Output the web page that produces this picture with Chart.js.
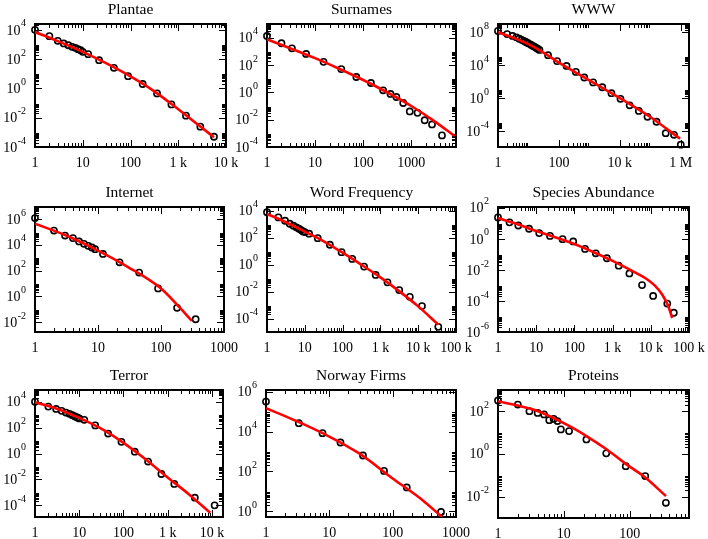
<!DOCTYPE html>
<html><head><meta charset="utf-8">
<script src="https://cdn.jsdelivr.net/npm/chart.js@4"></script>
<style>
html,body{margin:0;padding:0;background:#fff;}
#wrap{position:relative;width:708px;height:539px;overflow:hidden;background:#fff;}
#wrap canvas{position:absolute;left:0;top:0;}
</style></head><body><div id="wrap"></div>
<script>
// ---------- data ----------
const plantaeX = [1,2,3,4,5,6,7,8,9,10,13,22,45,89,180,360,720,1450,2900,5600];
const plantaeY = [10000,3715,1778,1175,891,692,589,479,407,316,219,85,25.7,6.9,2.0,0.457,0.0813,0.0138,0.00245,0.0005];
const plantaeFitX = [1,3,10,30,100,300,1000,3000,5600];
const plantaeFitY = [7080,1700,316,55,6.6,0.71,0.038,0.0023,0.00046];

const surnamesX = [1,2,3.3,6.5,15,35,72,145,260,370,490,680,930,1350,1900,2700,4350];
const surnamesY = [13200,3890,1660,646,170,50,13.2,4.8,1.41,0.76,0.457,0.166,0.0398,0.0316,0.0091,0.00447,0.000708];
const surnamesFitX = [1,3,10,30,100,300,1000,3000,8000];
const surnamesFitY = [7590,1700,316,57.5,7.94,1.1,0.1,0.0079,0.00063];

const wwwX = [1,2,3,4,5,6,7,8,9,10,12,14,16,18,20,23,44,87,178,360,680,1330,2650,5300,10500,21000,42000,81000,160000,320000,600000,1000000];
const wwwY = [1.445e8,6.03e7,3.55e7,2.4e7,1.66e7,1.2e7,8.91e6,6.92e6,5.5e6,4.47e6,3.02e6,2.19e6,1.66e6,1.26e6,1e6,7.08e5,1.62e5,3.09e4,7940,1510,316,79.4,20.4,3.89,0.813,0.132,0.0275,0.00525,0.00132,5.37e-5,3.39e-5,2.14e-6];
const wwwFitX = [1,3,10,30,100,1000,10000,100000,950000];
const wwwFitY = [1e8,2.34e7,3.55e6,3.55e5,2.0e4,141,1,0.00501,1.12e-5];

const internetX = [1,2,3,4,5,6,7,8,9,12,22,45,90,180,355];
const internetY = [1.2e6,1.29e5,5.25e4,3.31e4,1.82e4,1.2e4,8320,6170,4570,1950,437,69.2,4.07,0.126,0.0162];
const internetFitX = [1,3,10,30,100,200,310];
const internetFitY = [4.37e5,5.75e4,3550,186,3.98,0.126,0.012];

const wordX = [1,2,3,4,5,6,7,8,9,10,13,22,46,94,180,370,750,1540,3150,6000,12600,34000];
const wordY = [7590,3160,1780,1070,759,575,457,363,288,257,195,91.2,29.5,8.32,2.63,0.708,0.17,0.0479,0.0129,0.00407,0.000832,2.4e-5];
const wordFitX = [1,3,10,30,100,300,1000,3000,10000,34000];
const wordFitY = [5620,1510,282,57.5,7.59,1.05,0.112,0.0117,0.000794,3.55e-5];

const speciesX = [1,2,3.4,6.5,12,23,49,93,190,363,708,1445,2750,5900,11500,27000,40000];
const speciesY = [24,11.5,7.24,4.47,2.34,1.55,0.955,0.676,0.224,0.117,0.0562,0.0186,0.00589,0.00105,0.000209,6.76e-5,1.74e-5];
const speciesFitX = [1,3,10,30,100,300,1000,3000,7940,12600,20000,28200,36300];
const speciesFitY = [21.9,9.33,3.16,1.32,0.468,0.148,0.038,0.00955,0.00251,0.001,0.000251,5.01e-5,7.94e-6];

const terrorX = [1,2,3,4,5,6,7,8,9,10,13,23,45,90,180,360,720,1410,4100,11500];
const terrorY = [10000,4170,2750,1950,1450,1150,912,724,603,513,398,148,34.7,7.94,1.38,0.24,0.0263,0.00447,0.000389,0.0001];
const terrorFitX = [1,3,10,30,100,300,1000,3000,9120];
const terrorFitY = [8910,3020,562,89.1,6.61,0.407,0.0141,0.000724,2.63e-5];

const norwayX = [1,3.3,7.8,15,34,73,167,580];
const norwayY = [316000,26300,8320,2820,631,107,15.8,0.933];
const norwayFitX = [1,3,10,30,100,300,600];
const norwayFitY = [148000,33900,5620,776,44.7,3.55,0.525];

const proteinsX = [1,2,3,4,5,6,7,8,9,12,22,44,87,172,354];
const proteinsY = [309,200,97.7,81.3,69.2,37.2,42.7,33.9,13.8,11.5,4.68,1.05,0.263,0.0912,0.00513];
const proteinsFitX = [1,3.8,12,22,45,87,174,355];
const proteinsFitY = [288,105,20,6.76,1.58,0.339,0.0759,0.0105];

// tick labels
const plantaeXTicks = ["1","10","100","1 k","10 k"];
const surnamesXTicks = ["1","10","100","1000"];
const wwwXTicks = ["1","100","10 k","1 M"];
const internetXTicks = ["1","10","100","1000"];
const wordXTicks = ["1","10","100","1 k","10 k","100 k"];
const speciesXTicks = ["1","10","100","1 k","10 k","100 k"];
const terrorXTicks = ["1","10","100","1 k","10 k"];
const norwayXTicks = ["1","10","100","1000"];
const proteinsXTicks = ["1","10","100"];

const plantaeYExp = [4,2,0,-2,-4];
const surnamesYExp = [4,2,0,-2,-4];
const wwwYExp = [8,4,0,-4];
const internetYExp = [6,4,2,0,-2];
const wordYExp = [4,2,0,-2,-4];
const speciesYExp = [2,0,-2,-4,-6];
const terrorYExp = [4,2,0,-2,-4];
const norwayYExp = [6,4,2,0];
const proteinsYExp = [2,0,-2];

// ---------- layout ----------
const W = 708, H = 539;
const FONT = '"Liberation Serif","Times New Roman",Times,serif';

const panels = [
  {title:'Plantae', x:plantaeX, y:plantaeY, fx:plantaeFitX, fy:plantaeFitY, box:[35,24,226,147], xr:[0,4], yr:[-4,4.4], xStep:1, yStep:2, xl:plantaeXTicks, ye:plantaeYExp},
  {title:'Surnames', x:surnamesX, y:surnamesY, fx:surnamesFitX, fy:surnamesFitY, box:[267,24,456,147], xr:[0,3.93], yr:[-4,5], xStep:1, yStep:2, xl:surnamesXTicks, ye:surnamesYExp},
  {title:'WWW', x:wwwX, y:wwwY, fx:wwwFitX, fy:wwwFitY, box:[498,24,689,147], xr:[0,6.27], yr:[-5.95,9], xStep:2, yStep:4, xl:wwwXTicks, ye:wwwYExp},
  {title:'Internet', x:internetX, y:internetY, fx:internetFitX, fy:internetFitY, box:[35,207,224,332], xr:[0,3], yr:[-2.78,6.94], xStep:1, yStep:2, xl:internetXTicks, ye:internetYExp},
  {title:'Word Frequency', x:wordX, y:wordY, fx:wordFitX, fy:wordFitY, box:[267,207,456,332], xr:[0,5], yr:[-5,4.27], xStep:1, yStep:2, xl:wordXTicks, ye:wordYExp},
  {title:'Species Abundance', x:speciesX, y:speciesY, fx:speciesFitX, fy:speciesFitY, box:[498,207,689,332], xr:[0,5], yr:[-6,2.05], xStep:1, yStep:2, xl:speciesXTicks, ye:speciesYExp},
  {title:'Terror', x:terrorX, y:terrorY, fx:terrorFitX, fy:terrorFitY, box:[35,390,223,517], xr:[0,4.25], yr:[-4.9,4.9], xStep:1, yStep:2, xl:terrorXTicks, ye:terrorYExp},
  {title:'Norway Firms', x:norwayX, y:norwayY, fx:norwayFitX, fy:norwayFitY, box:[266,390,456,517], xr:[0,3], yr:[-0.28,6.08], xStep:1, yStep:2, xl:norwayXTicks, ye:norwayYExp},
  {title:'Proteins', x:proteinsX, y:proteinsY, fx:proteinsFitX, fy:proteinsFitY, box:[498,390,689,518], xr:[0,2.9], yr:[-3,2.98], xStep:1, yStep:2, xl:proteinsXTicks, ye:proteinsYExp}
];

function tickList(r, step){
  const out = [];
  const k0 = Math.floor(r[0]/step) - 1, k1 = Math.ceil(r[1]/step);
  for (let k = k0; k <= k1; k++) {
    const e = k*step, base = Math.pow(10, e);
    if (e >= r[0]-1e-9 && e <= r[1]+1e-9) out.push([base, true]);
    for (let m = 2; m <= 9; m++) {
      const lv = e + Math.log10(m);
      if (lv > r[0] && lv < r[1]) out.push([m*base, false]);
    }
  }
  return out;
}

function makePlugin(p){
  return {
    id: 'grace_' + p.title.replace(/\s/g,''),
    beforeDatasetsDraw(chart){
      const ctx = chart.ctx, a = chart.chartArea, xs = chart.scales.x, ys = chart.scales.y;
      const MAJ = 7, MIN = 4;
      ctx.save();
      ctx.strokeStyle = '#000'; ctx.lineWidth = 1;
      ctx.beginPath();
      tickList(p.xr, p.xStep).forEach(([v, major]) => {
        const x = Math.round(xs.getPixelForValue(v)) + 0.5, L = major ? MAJ : MIN;
        ctx.moveTo(x, a.bottom); ctx.lineTo(x, a.bottom - L);
        ctx.moveTo(x, a.top); ctx.lineTo(x, a.top + L);
      });
      tickList(p.yr, p.yStep).forEach(([v, major]) => {
        const y = Math.round(ys.getPixelForValue(v)) + 0.5, L = major ? MAJ : MIN;
        ctx.moveTo(a.left, y); ctx.lineTo(a.left + L, y);
        ctx.moveTo(a.right, y); ctx.lineTo(a.right - L, y);
      });
      ctx.stroke();
      ctx.lineWidth = 2;
      ctx.strokeRect(a.left, a.top, a.right - a.left, a.bottom - a.top);
      ctx.restore();
    },
    afterDraw(chart){
      const ctx = chart.ctx, a = chart.chartArea, xs = chart.scales.x, ys = chart.scales.y;
      ctx.save();
      ctx.fillStyle = '#000';
      ctx.font = '15.5px ' + FONT;
      ctx.textAlign = 'center'; ctx.textBaseline = 'alphabetic';
      ctx.fillText(p.title, (a.left + a.right)/2, a.top - 10);
      ctx.font = '14px ' + FONT;
      p.xl.forEach((t, i) => {
        const px = xs.getPixelForValue(Math.pow(10, i*p.xStep));
        ctx.fillText(t, px, a.bottom + 20);
      });
      p.ye.forEach(e => {
        const py = ys.getPixelForValue(Math.pow(10, e));
        const sup = String(e);
        ctx.font = '10px ' + FONT; const sw = ctx.measureText(sup).width;
        ctx.font = '14px ' + FONT; const bw = ctx.measureText('10').width;
        const right = a.left - 9;
        ctx.textAlign = 'left'; ctx.textBaseline = 'middle';
        ctx.fillText('10', right - sw - bw - 0.5, py + 1);
        ctx.font = '10px ' + FONT;
        ctx.fillText(sup, right - sw, py - 6);
      });
      ctx.restore();
    }
  };
}

const wrap = document.getElementById('wrap');
panels.forEach(p => {
  const cv = document.createElement('canvas');
  cv.width = W; cv.height = H;
  cv.style.width = W + 'px'; cv.style.height = H + 'px';
  wrap.appendChild(cv);
  const pts = p.x.map((v, i) => ({x: v, y: p.y[i]}));
  const fit = p.fx.map((v, i) => ({x: v, y: p.fy[i]}));
  new Chart(cv.getContext('2d'), {
    type: 'scatter',
    data: { datasets: [
      { label: 'fit', data: fit, showLine: true, borderColor: '#ff0000', backgroundColor: '#ff0000',
        borderWidth: 2.6, pointRadius: 0, fill: false, cubicInterpolationMode: 'monotone', order: 0 },
      { label: 'data', data: pts, showLine: false, pointRadius: 3.1, pointBorderWidth: 1.6,
        pointBorderColor: '#000', pointBackgroundColor: 'rgba(0,0,0,0)', borderColor: '#000',
        clip: false, order: 1 }
    ]},
    options: {
      responsive: false, animation: false, events: [], devicePixelRatio: 1,
      layout: { padding: { left: p.box[0], top: p.box[1], right: W - p.box[2], bottom: H - p.box[3] } },
      plugins: { legend: { display: false }, tooltip: { enabled: false } },
      scales: {
        x: { type: 'logarithmic', display: false, min: Math.pow(10, p.xr[0]), max: Math.pow(10, p.xr[1]) },
        y: { type: 'logarithmic', display: false, min: Math.pow(10, p.yr[0]), max: Math.pow(10, p.yr[1]) }
      }
    },
    plugins: [makePlugin(p)]
  });
});
</script></body></html>
